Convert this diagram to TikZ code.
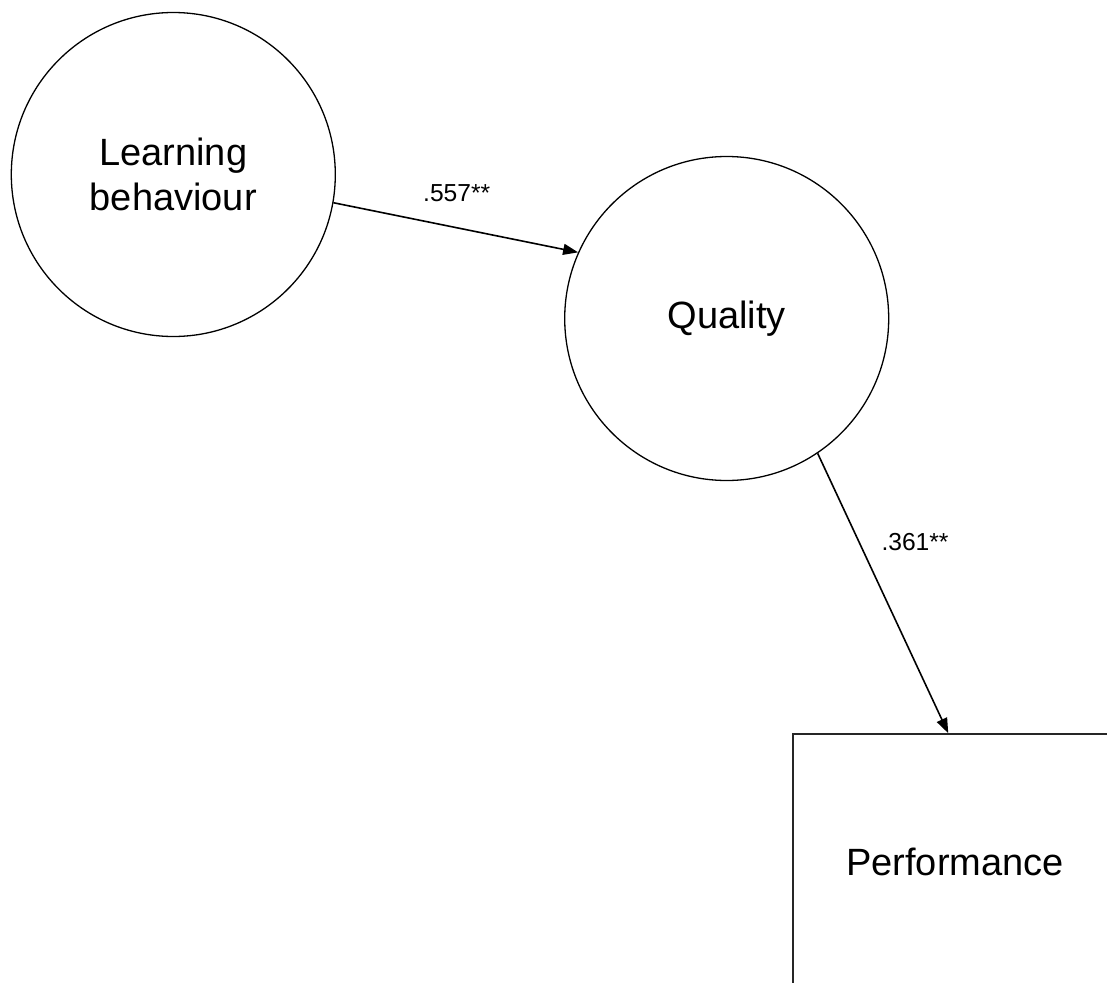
\documentclass[tikz,border=0pt]{standalone}
\usepackage{fontspec}
\setmainfont{Liberation Sans}
\usetikzlibrary{arrows.meta}
\begin{document}
\begin{tikzpicture}[x=1pt,y=-1pt,
  latent/.style={circle,draw,line width=1.3pt,minimum size=324pt,inner sep=0pt,
    font=\fontsize{38}{45}\selectfont,align=center},
  observed/.style={rectangle,draw=black!85,line width=1.6pt,minimum width=324pt,
    minimum height=256pt,inner sep=0pt,font=\fontsize{38}{45}\selectfont},
  path/.style={line width=1.6pt,-{Triangle[length=15pt,width=11pt]}},
  coef/.style={font=\fontsize{24.6}{28}\selectfont,inner sep=0pt}]
  \useasboundingbox (0,0) rectangle (1107,982);
  \clip (0,0) rectangle (1107,982);

  % constructs
  \node[latent] (lb) at (173.3,174.5) {Learning\\behaviour};
  \node[latent] (q) at (726.7,318.5) {Quality};
  \node[observed] (perf) at (955,862) {Performance};

  % structural paths
  \draw[path] (lb.-10.4) -- (q.156);
  \draw[path] (q.-56.9) -- (perf.93.1);

  % path coefficients
  \node[coef] (c1) at (456.7,192.7) {.557**};
  \node[coef] (c2) at (915,541.7) {.361**};
\end{tikzpicture}
\end{document}
